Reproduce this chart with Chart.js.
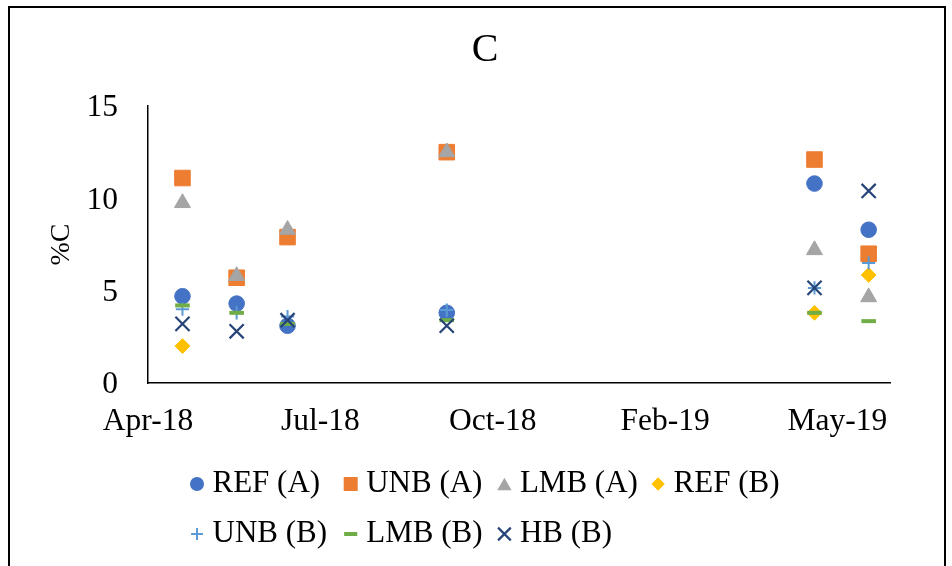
<!DOCTYPE html>
<html>
<head>
<meta charset="utf-8">
<script src="https://cdn.jsdelivr.net/npm/chart.js@4.4.1/dist/chart.umd.min.js"></script>
<style>
  html, body { margin: 0; padding: 0; background: #fff; }
  #wrap { width: 952px; height: 566px; }
</style>
</head>
<body>
<div id="wrap"><canvas id="chart" width="952" height="566"></canvas></div>
<script>
// Sampling dates and %C per series (null = not sampled)
const sampleDates = ['2018-04-22', '2018-05-25', '2018-06-25', '2018-09-30', '2019-05-12', '2019-06-14'];
const refA = [4.7, 4.3, 3.1, 3.8, 10.8, 8.3];
const unbA = [11.1, 5.7, 7.9, 12.5, 12.1, 7.0];
const lmbA = [9.75, 5.8, 8.3, 12.5, 7.2, 4.65];
const refB = [2.0, null, null, null, 3.8, 5.85];
const unbB = [4.0, 3.8, 3.6, 3.95, 5.15, 6.5];
const lmbB = [4.2, 3.8, 3.2, 3.4, 3.8, 3.35];
const hbB  = [3.2, 2.8, 3.4, 3.1, 5.15, 10.4];
const seriesNames = ['REF (A)', 'UNB (A)', 'LMB (A)', 'REF (B)', 'UNB (B)', 'LMB (B)', 'HB (B)'];

// Axis ticks
const xTickDates = ['2018-04-01', '2018-07-15', '2018-10-28', '2019-02-10', '2019-05-26'];
const xTickLabels = ['Apr-18', 'Jul-18', 'Oct-18', 'Feb-19', 'May-19'];
const xAxisEndDate = '2019-06-27';
const yTicks = [0, 5, 10, 15];
const chartTitle = 'C';
const yTitle = '%C';

const seriesValues = [refA, unbA, lmbA, refB, unbB, lmbB, hbB];

// Marker styles per series
const markerStyles = [
  { pointStyle: 'circle',   radius: 7.8,  color: '#4472C4', width: 1 },
  { pointStyle: 'rect',     radius: 11,   color: '#ED7D31', width: 1 },
  { pointStyle: 'triangle', radius: 9.2,  color: '#A5A5A5', width: 1 },
  { pointStyle: 'rectRot',  radius: 7.4,  color: '#FFC000', width: 1 },
  { pointStyle: 'cross',    radius: 6.6,  color: '#5B9BD5', width: 2 },
  { pointStyle: 'line',     radius: 7.3,  color: '#70AD47', width: 4 },
  { pointStyle: 'crossRot', radius: 10,   color: '#264478', width: 2.2 }
];

const FONT = "'Times New Roman', 'Liberation Serif', serif";
const DAY = 86400000;
const origin = Date.parse(xTickDates[0] + 'T00:00:00Z');
const toDay = s => Math.round((Date.parse(s + 'T00:00:00Z') - origin) / DAY);
const sampleDays = sampleDates.map(toDay);
const xTickDays = xTickDates.map(toDay);

const datasets = seriesNames.map((name, i) => {
  const st = markerStyles[i];
  return {
    label: name,
    data: seriesValues[i].map((v, j) => ({ x: sampleDays[j], y: v })).filter(p => p.y !== null),
    showLine: false,
    pointStyle: st.pointStyle,
    pointRadius: st.radius,
    pointHoverRadius: st.radius,
    backgroundColor: st.color,
    borderColor: st.color,
    pointBorderWidth: st.width,
    order: seriesNames.length - i   // later series drawn on top
  };
});

// White background, chart border and title centred on the whole frame
const framePlugin = {
  id: 'frame',
  beforeDraw(chart) {
    const ctx = chart.ctx;
    ctx.save();
    ctx.fillStyle = '#fff';
    ctx.fillRect(0, 0, chart.width, chart.height);
    ctx.strokeStyle = '#000';
    ctx.lineWidth = 2;
    ctx.beginPath();
    ctx.moveTo(9, chart.height);
    ctx.lineTo(9, 7);
    ctx.lineTo(945, 7);
    ctx.lineTo(945, chart.height);
    ctx.stroke();
    ctx.fillStyle = '#000';
    ctx.font = '40px ' + FONT;
    ctx.textAlign = 'center';
    ctx.textBaseline = 'middle';
    ctx.fillText(chartTitle, 485, 50);
    ctx.restore();
  }
};

function drawMarker(ctx, style, r, x, y) {
  ctx.save();
  ctx.fillStyle = style.color;
  ctx.strokeStyle = style.color;
  ctx.lineWidth = style.width;
  ctx.beginPath();
  switch (style.pointStyle) {
    case 'circle':
      ctx.arc(x, y, r, 0, Math.PI * 2);
      ctx.fill();
      break;
    case 'rect': {
      const s = Math.SQRT1_2 * r;
      ctx.fillRect(x - s, y - s, 2 * s, 2 * s);
      break;
    }
    case 'triangle': {
      const h = r * Math.sin(Math.PI / 3);
      ctx.moveTo(x, y - r * 0.75);
      ctx.lineTo(x + h, y + r * 0.75);
      ctx.lineTo(x - h, y + r * 0.75);
      ctx.closePath();
      ctx.fill();
      break;
    }
    case 'rectRot':
      ctx.moveTo(x, y - r);
      ctx.lineTo(x + r, y);
      ctx.lineTo(x, y + r);
      ctx.lineTo(x - r, y);
      ctx.closePath();
      ctx.fill();
      break;
    case 'cross':
      ctx.moveTo(x - r, y); ctx.lineTo(x + r, y);
      ctx.moveTo(x, y - r); ctx.lineTo(x, y + r);
      ctx.stroke();
      break;
    case 'line':
      ctx.moveTo(x - r, y); ctx.lineTo(x + r, y);
      ctx.stroke();
      break;
    case 'crossRot': {
      const d = r * Math.SQRT1_2;
      ctx.moveTo(x - d, y - d); ctx.lineTo(x + d, y + d);
      ctx.moveTo(x - d, y + d); ctx.lineTo(x + d, y - d);
      ctx.stroke();
      break;
    }
  }
  ctx.restore();
}

// Legend laid out in a grid of equal-width columns
const legendPlugin = {
  id: 'gridLegend',
  afterDraw(chart) {
    const ctx = chart.ctx;
    const cols = 4, x0 = 197, colW = 153.7, rowY = [484, 534], scale = 0.9;
    ctx.save();
    ctx.font = '31px ' + FONT;
    ctx.fillStyle = '#000';
    ctx.textBaseline = 'middle';
    ctx.textAlign = 'left';
    seriesNames.forEach((name, i) => {
      const x = x0 + colW * (i % cols);
      const y = rowY[Math.floor(i / cols)];
      drawMarker(ctx, markerStyles[i], markerStyles[i].radius * scale, x, y);
      ctx.fillText(name, x + 15.5, y);
    });
    ctx.restore();
  }
};

new Chart(document.getElementById('chart'), {
  type: 'scatter',
  data: { datasets },
  plugins: [framePlugin, legendPlugin],
  options: {
    responsive: false,
    animation: false,
    layout: { padding: { left: 0, right: 62, top: 106, bottom: 103 } },
    plugins: {
      legend: { display: false },
      tooltip: { enabled: false },
      title: { display: false }
    },
    scales: {
      x: {
        type: 'linear',
        min: 0,
        max: toDay(xAxisEndDate),
        afterBuildTicks(scale) { scale.ticks = xTickDays.map(v => ({ value: v })); },
        afterFit(scale) { scale.height = 80; },
        grid: { display: false, drawTicks: false },
        border: { display: true, color: '#000', width: 1.5 },
        ticks: {
          autoSkip: false,
          maxRotation: 0,
          padding: 20,
          color: '#000',
          font: { family: FONT, size: 31.5 },
          callback: (v, i) => xTickLabels[i]
        }
      },
      y: {
        min: 0,
        max: 15,
        afterBuildTicks(scale) { scale.ticks = yTicks.map(v => ({ value: v })); },
        afterFit(scale) { scale.width = 148; },
        grid: { display: false, drawTicks: false },
        border: { display: true, color: '#000', width: 1.5 },
        ticks: {
          padding: 30,
          labelOffset: 2,
          color: '#000',
          font: { family: FONT, size: 31.5 }
        },
        title: {
          display: true,
          text: yTitle,
          color: '#000',
          font: { family: FONT, size: 28 },
          padding: { top: 45, bottom: 0 }
        }
      }
    }
  }
});
</script>
</body>
</html>
